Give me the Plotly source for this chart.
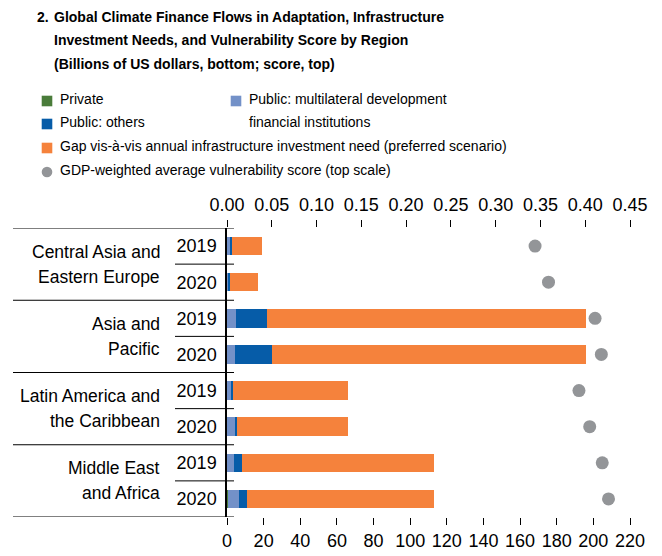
import plotly.graph_objects as go

# ---------------- data ----------------
regions = ["Central Asia and<br>Eastern Europe", "Asia and<br>Pacific",
           "Latin America and<br>the Caribbean", "Middle East<br>and Africa"]
years = ["2019", "2020"]
row_ids = [f"{r}|{y}" for r in ["CAEE", "AP", "LAC", "MEA"] for y in years]
row_years = [y for _ in regions for y in years]

private = [0.05, 0.05, 0.1, 0.1, 0.05, 0.05, 0.1, 0.5]
public_mdb = [1.6, 0.5, 4.9, 4.4, 2.2, 4.4, 3.8, 6.0]
public_others = [1.1, 1.1, 16.9, 20.2, 1.1, 1.1, 4.4, 4.4]
gap = [16.4, 15.2, 174.2, 171.4, 62.9, 60.7, 104.9, 102.2]
vulnerability = [0.344, 0.359, 0.411, 0.418, 0.393, 0.405, 0.419, 0.426]

bottom_ticks = list(range(0, 221, 20))
top_ticks = [0.00, 0.05, 0.10, 0.15, 0.20, 0.25, 0.30, 0.35, 0.40, 0.45]

title_lines = ["Global Climate Finance Flows in Adaptation, Infrastructure",
               "Investment Needs, and Vulnerability Score by Region",
               "(Billions of US dollars, bottom; score, top)"]
legend_labels = ["Private", "Public: others",
                 "Gap vis-à-vis annual infrastructure investment need (preferred scenario)",
                 "GDP-weighted average vulnerability score (top scale)",
                 "Public: multilateral development<br>financial institutions"]

# ---------------- style ----------------
GREEN = "#4A7C3A"
DBLUE = "#065CA8"
LBLUE = "#7391C8"
ORANGE = "#F5823C"
GRAY = "#939598"
FONT = "Liberation Sans, Arial, sans-serif"

OFF = 8  # page body margin
W, H = 662 - OFF, 556 - OFF
L, R, T, B = 227 - OFF, 32, 228 - OFF, 39
PW, PH = W - L - R, H - T - B
ROW = PH / 8.0


def px(x):
    return (x - OFF - L) / PW


def py(y):
    return (H - B - (y - OFF)) / PH


fig = go.Figure()
for vals, col in [(private, GREEN), (public_mdb, LBLUE),
                  (public_others, DBLUE), (gap, ORANGE)]:
    fig.add_trace(go.Bar(x=vals, y=row_ids, orientation="h",
                         marker=dict(color=col, line=dict(width=0)),
                         showlegend=False, xaxis="x", yaxis="y"))

fig.add_trace(go.Scatter(x=vulnerability, y=row_ids, mode="markers",
                         marker=dict(color=GRAY, size=13),
                         showlegend=False, xaxis="x2", yaxis="y"))

shapes = []
for b in [-0.5, 1.5, 3.5, 5.5, 7.5]:
    shapes.append(dict(type="line", xref="paper", yref="y",
                       x0=px(13), x1=px(234), y0=b, y1=b,
                       line=dict(color="black", width=1)))
for b in [0.5, 2.5, 4.5, 6.5]:
    shapes.append(dict(type="line", xref="paper", yref="y",
                       x0=px(175), x1=px(234), y0=b, y1=b,
                       line=dict(color="black", width=1)))

annotations = []
# region labels, one annotation per line
for i, r in enumerate(regions):
    lines = r.split("<br>")
    for j, ln in enumerate(lines):
        off = (j - (len(lines) - 1) / 2) * 25.0 / ROW
        annotations.append(dict(text=ln, xref="paper", yref="y", x=px(161.5),
                                y=2 * i + 0.5 + off, xanchor="right",
                                yanchor="middle", showarrow=False,
                                font=dict(family=FONT, size=17.5,
                                          color="black")))

# title
annotations.append(dict(text="<b>2.</b>", xref="paper", yref="paper",
                        x=px(35), y=py(16.5), xanchor="left", yanchor="middle",
                        showarrow=False,
                        font=dict(family=FONT, size=14, color="black")))
for t, yy in zip(title_lines, [16.5, 40, 63.5]):
    annotations.append(dict(text=f"<b>{t}</b>", xref="paper", yref="paper",
                            x=px(52), y=py(yy), xanchor="left",
                            yanchor="middle", showarrow=False,
                            font=dict(family=FONT, size=14, color="black")))

# legend (manual)
leg_items = [
    (legend_labels[0], GREEN, "square", 47, 101, 57.5, 99),
    (legend_labels[1], DBLUE, "square", 47, 124, 57.5, 121.5),
    (legend_labels[2], ORANGE, "square", 47, 148, 57.5, 146),
    (legend_labels[3], GRAY, "circle", 47, 172, 57.5, 170),
]
for text, col, kind, cx, cy, tx, ty in leg_items:
    shapes.append(dict(type="rect" if kind == "square" else "circle",
                       xref="paper", yref="paper",
                       x0=px(cx - 5.3), x1=px(cx + 5.3),
                       y0=py(cy + 5.3), y1=py(cy - 5.3),
                       fillcolor=col, line=dict(width=0)))
    annotations.append(dict(text=text, xref="paper", yref="paper",
                            x=px(tx), y=py(ty), xanchor="left",
                            yanchor="middle", showarrow=False,
                            font=dict(family=FONT, size=14, color="black")))
shapes.append(dict(type="rect", xref="paper", yref="paper",
                   x0=px(230.7), x1=px(241.3), y0=py(106.3), y1=py(95.7),
                   fillcolor=LBLUE, line=dict(width=0)))
for ln, yy in zip(legend_labels[4].split("<br>"), [99, 121.5]):
    annotations.append(dict(text=ln, xref="paper", yref="paper",
                            x=px(246.5), y=py(yy), xanchor="left",
                            yanchor="middle", showarrow=False,
                            font=dict(family=FONT, size=14, color="black")))

axis_common = dict(ticks="outside", ticklen=7, tickwidth=1, tickcolor="black",
                   showgrid=False, zeroline=False, showline=False,
                   automargin=False, fixedrange=True, tickangle=0,
                   tickfont=dict(family=FONT, size=18, color="black"))

fig.update_layout(
    width=W, height=H, autosize=False,
    margin=dict(l=L, r=R, t=T, b=B, pad=0),
    paper_bgcolor="white", plot_bgcolor="white",
    barmode="stack", bargap=0.49,
    showlegend=False,
    font=dict(family=FONT, color="black"),
    xaxis=dict(range=[0, 220], tickvals=bottom_ticks,
               ticktext=[str(v) for v in bottom_ticks], **axis_common),
    xaxis2=dict(range=[0, 0.45], overlaying="x", side="top",
                tickvals=top_ticks, ticktext=[f"{v:.2f}" for v in top_ticks],
                ticklabelstandoff=2, **axis_common),
    yaxis=dict(type="category", categoryorder="array", categoryarray=row_ids,
               range=[7.5, -0.5], tickvals=row_ids, ticktext=row_years,
               ticks="", showgrid=False, zeroline=False, automargin=False,
               showline=True, linecolor="black", linewidth=1.5,
               ticklabelstandoff=5,
               tickfont=dict(family=FONT, size=18, color="black"),
               fixedrange=True),
    shapes=shapes, annotations=annotations,
)

fig.write_html("out.html")
